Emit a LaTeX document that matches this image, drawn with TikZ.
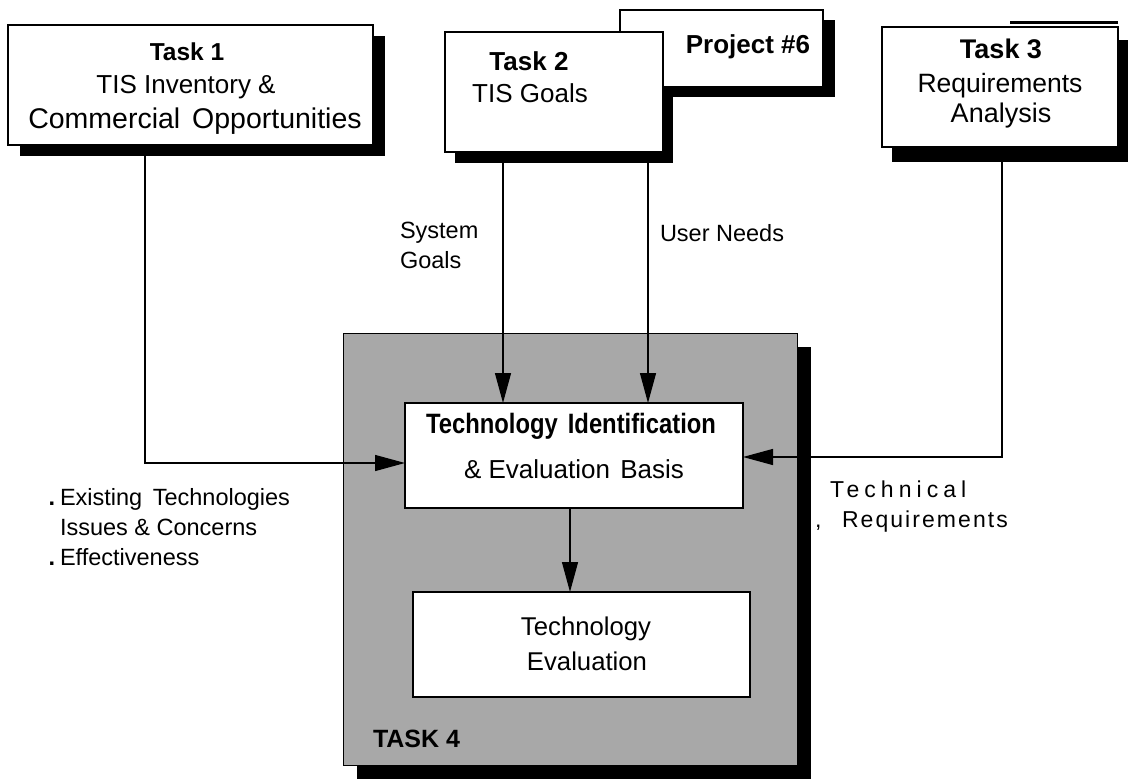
\documentclass[tikz,border=0pt]{standalone}
\usepackage{fontspec}
\setmainfont{Liberation Sans}
\newfontfamily\condfont[FakeStretch=0.85]{Liberation Sans}
\usetikzlibrary{arrows.meta}

\newcommand{\fs}[1]{\fontsize{#1}{#1}\selectfont}

\begin{document}
\begin{tikzpicture}[x=1pt,y=-1pt,
  box/.style={draw, line width=1.6pt, fill=white, inner sep=0pt, outer sep=0pt, anchor=north west},
  shade/.style={fill=black, inner sep=0pt, outer sep=0pt, anchor=north west},
  panel/.style={draw, line width=1pt, fill=black!34, inner sep=0pt, outer sep=0pt, anchor=north west},
  lbl/.style={inner sep=0pt, outer sep=0pt, anchor=base},
  lbll/.style={inner sep=0pt, outer sep=0pt, anchor=base west},
  flow/.style={line width=1.3pt, -{Triangle[length=30pt,width=16pt]}}
]
\useasboundingbox (0,0) rectangle (1130,779);

% ---- Task 1 ----
\node[shade, minimum width=365pt, minimum height=120pt] (t1s) at (20,36) {};
\node[box, minimum width=365pt, minimum height=120pt] (t1) at (8,25) {};
\node[lbl, font=\bfseries\fs{24.5}] (t1a) at (187,60) {Task 1};
\node[lbl, font=\fs{26}] (t1b) at (186,93) {TIS Inventory \&};
\node[lbl, font=\fs{28.5}] (t1c) at (195,128) {Commercial\hspace{4pt} Opportunities};

% ---- Task 2 and Project #6 ----
\node[shade, minimum width=218pt, minimum height=120pt] (t2s) at (455,43) {};
\node[shade, minimum width=203pt, minimum height=77pt] (p6s) at (632,20) {};
\node[box, minimum width=203pt, minimum height=77pt] (p6) at (620,10) {};
\node[lbl, font=\bfseries\fs{26}] (p6a) at (748,53) {Project \#6};
\node[box, minimum width=218pt, minimum height=120pt] (t2) at (445,32) {};
\node[lbl, font=\bfseries\fs{26}] (t2a) at (529,70) {Task 2};
\node[lbl, font=\fs{26}] (t2b) at (530,102) {TIS Goals};

% ---- Task 3 ----
\node[shade, minimum width=236pt, minimum height=122pt] (t3s) at (892,40) {};
\node[box, minimum width=236pt, minimum height=120pt] (t3) at (882,27) {};
\draw[line width=3pt] (t3.north east) ++(0,-5) coordinate (t3r) -- ++(-108,0) coordinate (t3l);
\node[lbl, font=\bfseries\fs{27}] (t3a) at (1001,58) {Task 3};
\node[lbl, font=\fs{26.5}] (t3b) at (1000,92) {Requirements};
\node[lbl, font=\fs{27}] (t3c) at (1001,122) {Analysis};

% ---- Task 4 panel ----
\node[shade, minimum width=454pt, minimum height=432pt] (t4s) at (357,347) {};
\node[panel, minimum width=454pt, minimum height=432pt] (t4) at (343,333) {};
\node[lbll, font=\bfseries\fs{25}] (t4a) at (373,747) {TASK 4};

\node[box, minimum width=338pt, minimum height=105pt] (ib) at (405,403) {};
\node[lbl, font=\condfont\bfseries\fs{28}] (iba) at (571,433) {Technology\hspace{10pt}Identification};
\node[lbl, font=\fs{26}] (ibb) at (574,478) {\& Evaluation\hspace{3pt} Basis};

\node[box, minimum width=337pt, minimum height=105pt] (ie) at (413,592) {};
\node[lbl, font=\fs{25.7}] (iea) at (586,635) {Technology};
\node[lbl, font=\fs{25.7}] (ieb) at (587,670) {Evaluation};

% ---- connectors ----
\draw[flow] ([xshift=137pt]t1.south west) |- ([yshift=-7.5pt]ib.west);
\draw[flow] ([xshift=58pt]t2.south west) -- ([xshift=98pt]ib.north west);
\draw[flow] ([xshift=203pt]t2.south west) -- ([xshift=243pt]ib.north west);
\draw[flow] ([xshift=120pt]t3.south west) |- ([yshift=-1.5pt]ib.east);
\draw[flow] ([xshift=165pt]ib.south west) -- ([xshift=157pt]ie.north west);

% ---- flow labels ----
\node[lbll, font=\fs{23.5}] (sg1) at (400,238) {System};
\node[lbll, font=\fs{23.5}] (sg2) at (400,268) {Goals};
\node[lbll, font=\fs{23.5}] (un) at (660,241) {User Needs};

\node[lbll, font=\fs{23.5}] (ex1) at (60,505) {Existing\hspace{4pt} Technologies};
\node[lbll, font=\fs{23.5}] (ex2) at (60,535) {Issues \& Concerns};
\node[lbll, font=\fs{23.5}] (ex3) at (60,565) {Effectiveness};
\node[lbl, font=\bfseries\fs{23.5}] (b1) at (52,505) {.};
\node[lbl, font=\bfseries\fs{23.5}] (b2) at (52,565) {.};

\node[lbll, font=\fs{23}\addfontfeature{LetterSpace=22}] (tr1) at (830,497) {Technical};
\node[lbll, font=\fs{23}] (trc) at (815,527) {,};
\node[lbll, font=\fs{23}\addfontfeature{LetterSpace=9}] (tr2) at (842,527) {Requirements};
\end{tikzpicture}
\end{document}
